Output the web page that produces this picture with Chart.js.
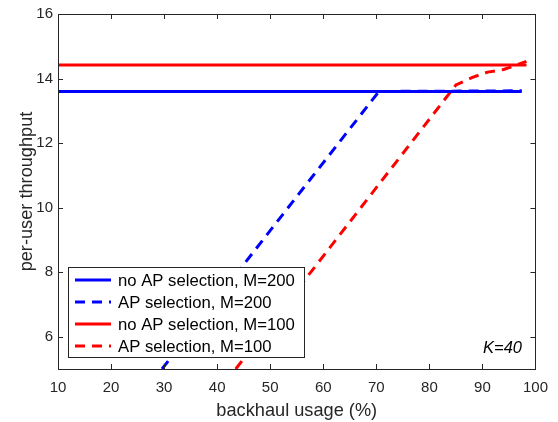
<!DOCTYPE html>
<html>
<head>
<meta charset="utf-8">
<script src="https://cdn.jsdelivr.net/npm/chart.js@4/dist/chart.umd.min.js"></script>
<style>
  html, body { margin: 0; padding: 0; background: #fff; }
  #wrap { width: 558px; height: 422px; }
</style>
</head>
<body>
<div id="wrap"><canvas id="myChart" width="558" height="422"></canvas></div>
<script>
// axis ticks
const xTicks = [10, 20, 30, 40, 50, 60, 70, 80, 90, 100];
const yTicks = [6, 8, 10, 12, 14, 16];

// series (backhaul usage %, per-user throughput)
const noSel200X = [10, 97.4];
const noSel200Y = [13.6, 13.6];
const sel200X = [29.6, 70.5, 97.4];
const sel200Y = [5, 13.6, 13.62];
const noSel100X = [10, 98.3];
const noSel100Y = [14.42, 14.42];
const sel100X = [43.5, 85, 88, 91, 94, 98.3];
const sel100Y = [5, 13.8, 14.03, 14.2, 14.28, 14.53];

const labels = ['no AP selection, M=200', 'AP selection, M=200', 'no AP selection, M=100', 'AP selection, M=100'];

const axisColor = '#262626';
const fontFam = '"Liberation Sans", Arial, Helvetica, sans-serif';

function pts(xs, ys) {
    return xs.map((x, i) => ({x: x, y: ys[i]}));
}

// frame, inner ticks, legend box and annotation
const matlabStyle = {
    id: 'matlabStyle',
    afterDraw(chart) {
        const ctx = chart.ctx;
        const a = chart.chartArea;
        const xs = chart.scales.x, ys = chart.scales.y;
        ctx.save();
        ctx.strokeStyle = axisColor;
        ctx.lineWidth = 1;
        ctx.strokeRect(Math.round(a.left) + 0.5, Math.round(a.top) + 0.5,
            Math.round(a.right - a.left), Math.round(a.bottom - a.top));
        ctx.beginPath();
        xTicks.forEach(v => {
            const px = Math.round(xs.getPixelForValue(v)) + 0.5;
            ctx.moveTo(px, a.bottom); ctx.lineTo(px, a.bottom - 5);
            ctx.moveTo(px, a.top); ctx.lineTo(px, a.top + 5);
        });
        yTicks.forEach(v => {
            const py = Math.round(ys.getPixelForValue(v)) + 0.5;
            ctx.moveTo(a.left, py); ctx.lineTo(a.left + 5, py);
            ctx.moveTo(a.right, py); ctx.lineTo(a.right - 5, py);
        });
        ctx.stroke();

        // legend
        const lx = 68, ly = 267, lw = 236, lh = 90;
        ctx.fillStyle = '#fff';
        ctx.fillRect(lx, ly, lw, lh);
        ctx.strokeStyle = axisColor;
        ctx.strokeRect(lx + 0.5, ly + 0.5, lw, lh);
        ctx.font = '16.7px ' + fontFam;
        ctx.textBaseline = 'middle';
        chart.data.datasets.forEach((ds, i) => {
            const yy = ly + 13 + i * 22;
            ctx.strokeStyle = ds.borderColor;
            ctx.lineWidth = 3;
            ctx.setLineDash(ds.borderDash || []);
            ctx.beginPath();
            ctx.moveTo(lx + 7, yy); ctx.lineTo(lx + 43, yy);
            ctx.stroke();
            ctx.setLineDash([]);
            ctx.fillStyle = '#000';
            ctx.fillText(ds.label, lx + 50, yy + 1);
        });

        ctx.font = 'italic 16.5px ' + fontFam;
        ctx.fillStyle = '#000';
        ctx.textAlign = 'right';
        ctx.fillText('K=40', 522, 348);
        ctx.restore();
    }
};

const ctx = document.getElementById('myChart');
const myChart = new Chart(ctx, {
    type: 'line',
    data: {
        datasets: [
            {label: labels[0], data: pts(noSel200X, noSel200Y), borderColor: '#0000ff'},
            {label: labels[1], data: pts(sel200X, sel200Y), borderColor: '#0000ff', borderDash: [10, 7]},
            {label: labels[2], data: pts(noSel100X, noSel100Y), borderColor: '#ff0000'},
            {label: labels[3], data: pts(sel100X, sel100Y), borderColor: '#ff0000', borderDash: [10, 7]}
        ]
    },
    options: {
        responsive: false,
        animation: false,
        devicePixelRatio: 1,
        layout: {padding: {left: 0, top: 13, right: 21, bottom: 0}},
        elements: {
            point: {radius: 0},
            line: {borderWidth: 3, tension: 0, fill: false, borderCapStyle: 'butt'}
        },
        scales: {
            x: {
                type: 'linear',
                min: 10,
                max: 100,
                afterFit: s => { s.height = 53; },
                afterBuildTicks: s => { s.ticks = xTicks.map(v => ({value: v})); },
                grid: {display: false, drawTicks: false},
                border: {display: false},
                ticks: {color: axisColor, padding: 10, maxRotation: 0, autoSkip: false,
                    font: {size: 15, family: fontFam}},
                title: {display: true, text: 'backhaul usage (%)', color: axisColor,
                    padding: {top: 0, bottom: 0}, font: {size: 18.2, family: fontFam}}
            },
            y: {
                type: 'linear',
                min: 5,
                max: 16,
                afterFit: s => { s.width = 58; },
                afterBuildTicks: s => { s.ticks = yTicks.map(v => ({value: v})); },
                grid: {display: false, drawTicks: false},
                border: {display: false},
                ticks: {color: axisColor, padding: 5, autoSkip: false,
                    font: {size: 15, family: fontFam}},
                title: {display: true, text: 'per-user throughput', color: axisColor,
                    padding: {top: 16, bottom: 0}, font: {size: 18.2, family: fontFam}}
            }
        },
        plugins: {
            legend: {display: false},
            tooltip: {enabled: false}
        }
    },
    plugins: [matlabStyle]
});
</script>
</body>
</html>
